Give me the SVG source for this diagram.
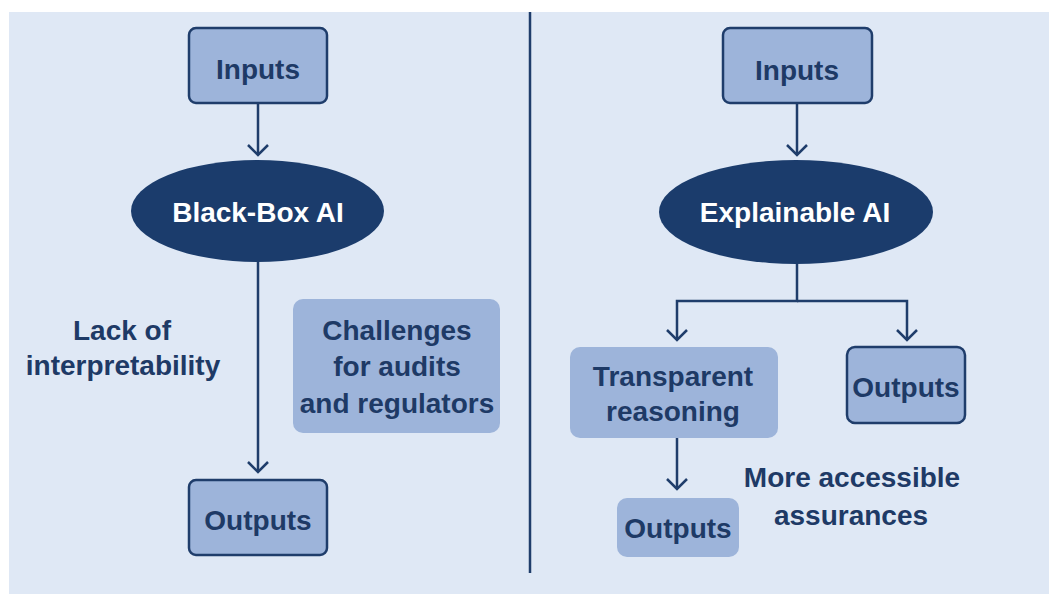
<svg xmlns="http://www.w3.org/2000/svg" width="1049" height="594" viewBox="0 0 1049 594">
<defs>
<style>
.bg{fill:#dfe8f5}
.box{fill:#9db4da;stroke:#1f3d6b;stroke-width:2.5}
.soft{fill:#9db4da;stroke:none}
.ell{fill:#1b3c6c}
.t{font-family:"Liberation Sans",Arial,sans-serif;font-weight:bold;font-size:28px;fill:#1e3a66;text-anchor:middle}
.tw{fill:#ffffff}
.ln{fill:none;stroke:#1f3d6b;stroke-width:2.5}
</style>
<marker id="chev" markerUnits="userSpaceOnUse" markerWidth="30" markerHeight="30" viewBox="-15 -15 30 30" refX="0" refY="0" orient="auto">
<path d="M-10,-10 L0,0 L-10,10" fill="none" stroke="#1f3d6b" stroke-width="2.5"/>
</marker>
</defs>
<rect x="0" y="0" width="1049" height="594" fill="#ffffff"/>
<rect class="bg" x="9" y="12" width="1040" height="582"/>
<g id="connectors">
<line class="ln" x1="530" y1="12" x2="530" y2="573"/>
<line class="ln" x1="258" y1="103" x2="258" y2="155" marker-end="url(#chev)"/>
<line class="ln" x1="258" y1="262" x2="258" y2="472" marker-end="url(#chev)"/>
<line class="ln" x1="797" y1="103" x2="797" y2="155" marker-end="url(#chev)"/>
<polyline class="ln" points="797,264 797,301 677,301 677,340" marker-end="url(#chev)"/>
<polyline class="ln" points="797,301 907,301 907,340" marker-end="url(#chev)"/>
<line class="ln" x1="677" y1="438" x2="677" y2="489" marker-end="url(#chev)"/>
</g>
<g id="left-inputs">
<rect class="box" x="189" y="28" width="138" height="75" rx="7"/>
<text class="t" x="258" y="79">Inputs</text>
</g>
<g id="black-box-ai">
<ellipse class="ell" cx="257.5" cy="211" rx="126.5" ry="51"/>
<text class="t tw" x="258" y="222" font-size="27">Black-Box AI</text>
</g>
<g id="left-outputs">
<rect class="box" x="189" y="480" width="138" height="75" rx="7"/>
<text class="t" x="258" y="530">Outputs</text>
</g>
<g id="lack-label">
<text class="t" x="122" y="340">Lack of</text>
<text class="t" x="123" y="375">interpretability</text>
</g>
<g id="challenges">
<rect class="soft" x="293" y="299" width="207" height="134" rx="10"/>
<text class="t" x="397" y="340" font-size="27">Challenges</text>
<text class="t" x="397" y="376" font-size="27">for audits</text>
<text class="t" x="397" y="413" font-size="27">and regulators</text>
</g>
<g id="right-inputs">
<rect class="box" x="723" y="28" width="149" height="75" rx="7"/>
<text class="t" x="797" y="80">Inputs</text>
</g>
<g id="explainable-ai">
<ellipse class="ell" cx="796" cy="212" rx="137" ry="52"/>
<text class="t tw" x="795" y="222">Explainable AI</text>
</g>
<g id="transparent">
<rect class="soft" x="570" y="347" width="208" height="91" rx="10"/>
<text class="t" x="673" y="386" font-size="27">Transparent</text>
<text class="t" x="673" y="421" font-size="27">reasoning</text>
</g>
<g id="right-outputs">
<rect class="box" x="847" y="347" width="118" height="76" rx="8"/>
<text class="t" x="906" y="397">Outputs</text>
</g>
<g id="lower-outputs">
<rect class="soft" x="617" y="498" width="122" height="59" rx="10"/>
<text class="t" x="678" y="538">Outputs</text>
</g>
<g id="assurances-label">
<text class="t" x="852" y="487" font-size="27">More accessible</text>
<text class="t" x="851" y="525" font-size="27">assurances</text>
</g>
</svg>
